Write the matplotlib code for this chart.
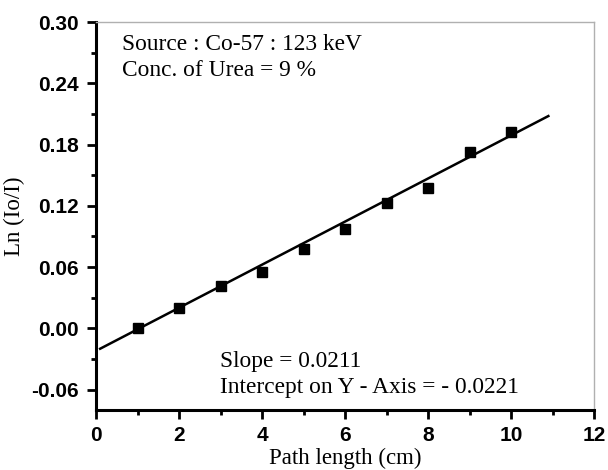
import numpy as np
import matplotlib.pyplot as plt
from matplotlib.ticker import MultipleLocator

# measured points
path_cm = [1, 2, 3, 4, 5, 6, 7, 8, 9, 10]
ln_ratio = [0.000, 0.020, 0.041, 0.055, 0.078, 0.097, 0.123, 0.137, 0.173, 0.192]

# linear fit as reported on the figure
slope = 0.0211
intercept = -0.0221
fit_x = [0.1, 10.9]

xticks = [0, 2, 4, 6, 8, 10, 12]
yticks = [-0.06, 0.00, 0.06, 0.12, 0.18, 0.24, 0.30]

serif = ["Liberation Serif", "DejaVu Serif"]
sans = ["Liberation Sans", "DejaVu Sans"]

fig = plt.figure(figsize=(6.08, 4.70), dpi=100)
ax = fig.add_axes([96/608, 60/470, 498/608, 388/470])

fx = np.array(fit_x)
ax.plot(fx, slope*fx + intercept, color="black", lw=1.8)
ax.plot(path_cm, ln_ratio, ls="none", marker="s", ms=7.5, color="black")

ax.set_xlim(0, 12)
ax.set_ylim(-0.08, 0.30)
ax.set_xticks(xticks)
ax.set_yticks(yticks)
ax.set_xticklabels([str(t) for t in xticks])
ax.set_yticklabels(["%.2f" % t for t in yticks])
ax.xaxis.set_minor_locator(MultipleLocator(1))
ax.yaxis.set_minor_locator(MultipleLocator(0.03))

for lab in ax.get_xticklabels() + ax.get_yticklabels():
    lab.set_family(sans)
    lab.set_fontweight("bold")
    lab.set_fontsize(15)

ax.tick_params(which="major", direction="out", length=6.5, width=2, pad=6,
               top=False, right=False)
ax.tick_params(which="minor", direction="out", length=3.5, width=2,
               top=False, right=False)
ax.tick_params(axis="x", which="major", pad=5)
ax.spines['left'].set_linewidth(2.2)
ax.spines['bottom'].set_linewidth(2.2)
ax.spines['top'].set_color("#b0b0b0")
ax.spines['right'].set_color("#b0b0b0")
ax.spines['top'].set_linewidth(1)
ax.spines['right'].set_linewidth(1)

ax.set_xlabel("Path length (cm)", family=serif, fontsize=16.5, labelpad=2)
ax.set_ylabel("Ln (Io/I)", family=serif, fontsize=16.5, labelpad=4)

ax.text(0.053, 0.968, "Source : Co-57 : 123 keV\nConc. of Urea = 9 %",
        transform=ax.transAxes, family=serif, fontsize=16.8, va="top", ha="left",
        linespacing=1.28)
ax.text(0.25, 0.032, "Slope = 0.0211\nIntercept on Y - Axis = - 0.0221",
        transform=ax.transAxes, family=serif, fontsize=16.8, va="bottom", ha="left",
        linespacing=1.28)

plt.savefig("out.png", dpi=100)
